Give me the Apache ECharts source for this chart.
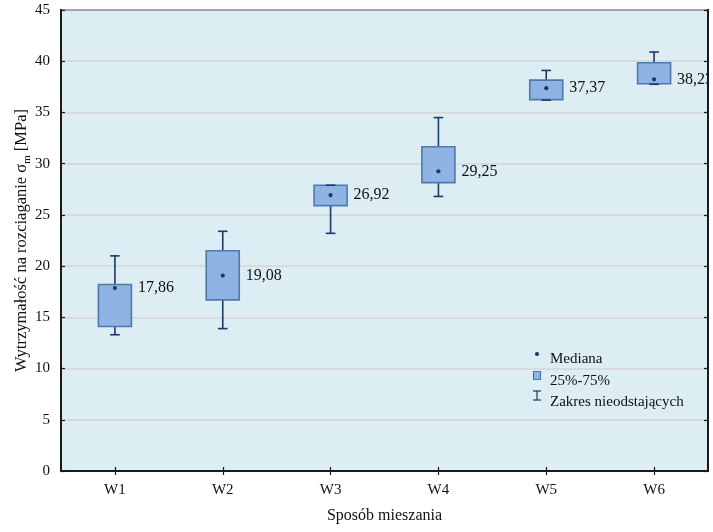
<!DOCTYPE html>
<html>
<head>
<meta charset="utf-8">
<script src="https://cdn.jsdelivr.net/npm/echarts@6/dist/echarts.min.js"></script>
<style>
  html, body { margin: 0; padding: 0; background: #ffffff; }
  #chart { width: 713px; height: 532px; }
</style>
</head>
<body>
<div id="chart"></div>
<script>
// Tensile strength by mixing method: whisker range, interquartile box, median.
const categories = ['W1', 'W2', 'W3', 'W4', 'W5', 'W6'];
const whiskerLow = [13.3, 13.9, 23.2, 26.8, 36.2, 37.75];
const quartile1 = [14.1, 16.7, 25.9, 28.15, 36.25, 37.8];
const medians = [17.86, 19.08, 26.92, 29.25, 37.37, 38.23];
const quartile3 = [18.2, 21.5, 27.9, 31.65, 38.15, 39.85];
const whiskerHigh = [21.0, 23.4, 27.9, 34.5, 39.1, 40.9];

const serif = 'Liberation Serif';
const boxFill = '#8fb4e3';
const boxEdge = '#4f78ae';
const darkBlue = '#1c3a66';

const rows = categories.map((c, i) => [i, whiskerLow[i], quartile1[i], medians[i], quartile3[i], whiskerHigh[i]]);

function renderBox(params, api) {
  const i = api.value(0);
  const pLow = api.coord([i, api.value(1)]);
  const pQ1 = api.coord([i, api.value(2)]);
  const pMed = api.coord([i, api.value(3)]);
  const pQ3 = api.coord([i, api.value(4)]);
  const pHigh = api.coord([i, api.value(5)]);
  const x = pMed[0];
  const half = 16.5;
  const cap = 4.8;
  const label = api.value(3).toFixed(2).replace('.', ',');
  const lineStyle = { stroke: darkBlue, lineWidth: 1.6 };
  return {
    type: 'group',
    children: [
      { type: 'line', shape: { x1: x, y1: pLow[1], x2: x, y2: pHigh[1] }, style: lineStyle },
      {
        type: 'rect',
        shape: { x: x - half, y: pQ3[1], width: half * 2, height: pQ1[1] - pQ3[1] },
        style: { fill: boxFill, stroke: boxEdge, lineWidth: 1.6 }
      },
      { type: 'line', shape: { x1: x - cap, y1: pLow[1], x2: x + cap, y2: pLow[1] }, style: lineStyle },
      { type: 'line', shape: { x1: x - cap, y1: pHigh[1], x2: x + cap, y2: pHigh[1] }, style: lineStyle },
      { type: 'circle', shape: { cx: x, cy: pMed[1], r: 2.1 }, style: { fill: darkBlue } },
      {
        type: 'text',
        x: x + half + 6.5,
        y: pMed[1],
        style: {
          text: label,
          fill: '#111111',
          font: '16px "' + serif + '"',
          verticalAlign: 'middle',
          align: 'left'
        }
      }
    ]
  };
}

const chart = echarts.init(document.getElementById('chart'), null, { renderer: 'canvas' });

const axisLine = { show: true, lineStyle: { color: '#1a1a1a', width: 2 } };
const innerTick = { show: true, inside: true, length: 4, lineStyle: { color: '#1a1a1a', width: 1.2 } };

chart.setOption({
  animation: false,
  backgroundColor: '#ffffff',
  grid: {
    left: 61, right: 5, top: 10, bottom: 61,
    outerBoundsMode: 'none',
    containLabel: false,
    show: true,
    backgroundColor: '#dcedf3',
    borderColor: '#1a1a1a',
    borderWidth: 2
  },
  xAxis: [
    {
      type: 'category',
      data: categories,
      position: 'bottom',
      axisLine: axisLine,
      axisTick: Object.assign({ alignWithLabel: true }, innerTick),
      axisLabel: { color: '#111111', fontFamily: serif, fontSize: 15, margin: 12 },
      splitLine: { show: false },
      name: 'Sposób mieszania',
      nameLocation: 'middle',
      nameGap: 37,
      nameMoveOverlap: false,
      nameTextStyle: { color: '#111111', fontFamily: serif, fontSize: 16 }
    },
    {
      type: 'category',
      data: categories,
      position: 'top',
      axisLine: axisLine,
      axisTick: Object.assign({ alignWithLabel: true }, innerTick),
      axisLabel: { show: false },
      splitLine: { show: false }
    }
  ],
  yAxis: [
    {
      type: 'value',
      min: 0,
      max: 45,
      interval: 5,
      position: 'left',
      axisLine: axisLine,
      axisTick: innerTick,
      axisLabel: { color: '#111111', fontFamily: serif, fontSize: 15, margin: 11 },
      splitLine: { show: true, lineStyle: { color: '#d9d3d3', width: 1.5 } },
      name: 'Wytrzymałość na rozciaganie σ{sub|m} [MPa]',
      nameLocation: 'middle',
      nameGap: 28,
      nameMoveOverlap: false,
      nameTextStyle: {
        color: '#111111',
        fontFamily: serif,
        fontSize: 16.5,
        lineHeight: 22,
        rich: {
          sub: { fontFamily: serif, fontSize: 11, color: '#111111', verticalAlign: 'bottom', lineHeight: 22 }
        }
      }
    },
    {
      type: 'value',
      min: 0,
      max: 45,
      interval: 5,
      position: 'right',
      axisLine: axisLine,
      axisTick: innerTick,
      axisLabel: { show: false },
      splitLine: { show: false }
    }
  ],
  series: [
    {
      type: 'custom',
      name: 'Wytrzymałość',
      xAxisIndex: 0,
      yAxisIndex: 0,
      clip: true,
      renderItem: renderBox,
      encode: { x: 0, y: [1, 2, 3, 4, 5] },
      data: rows,
      z: 3
    }
  ],
  graphic: [
    { type: 'circle', shape: { cx: 537, cy: 354, r: 2.1 }, style: { fill: darkBlue }, z: 10 },
    {
      type: 'text', x: 550, y: 359,
      style: { text: 'Mediana', fill: '#111111', font: '15px "' + serif + '"', verticalAlign: 'middle' }, z: 10
    },
    {
      type: 'rect', shape: { x: 533.5, y: 371.5, width: 7, height: 8 },
      style: { fill: boxFill, stroke: boxEdge, lineWidth: 1.2 }, z: 10
    },
    {
      type: 'text', x: 550, y: 381,
      style: { text: '25%-75%', fill: '#111111', font: '15px "' + serif + '"', verticalAlign: 'middle' }, z: 10
    },
    {
      type: 'group', z: 10,
      children: [
        { type: 'line', shape: { x1: 537, y1: 391, x2: 537, y2: 400 }, style: { stroke: darkBlue, lineWidth: 1.2 } },
        { type: 'line', shape: { x1: 533, y1: 391, x2: 541, y2: 391 }, style: { stroke: darkBlue, lineWidth: 1.2 } },
        { type: 'line', shape: { x1: 533, y1: 400, x2: 541, y2: 400 }, style: { stroke: darkBlue, lineWidth: 1.2 } }
      ]
    },
    {
      type: 'text', x: 550, y: 402,
      style: { text: 'Zakres nieodstających', fill: '#111111', font: '15px "' + serif + '"', verticalAlign: 'middle' }, z: 10
    }
  ]
});
</script>
</body>
</html>
